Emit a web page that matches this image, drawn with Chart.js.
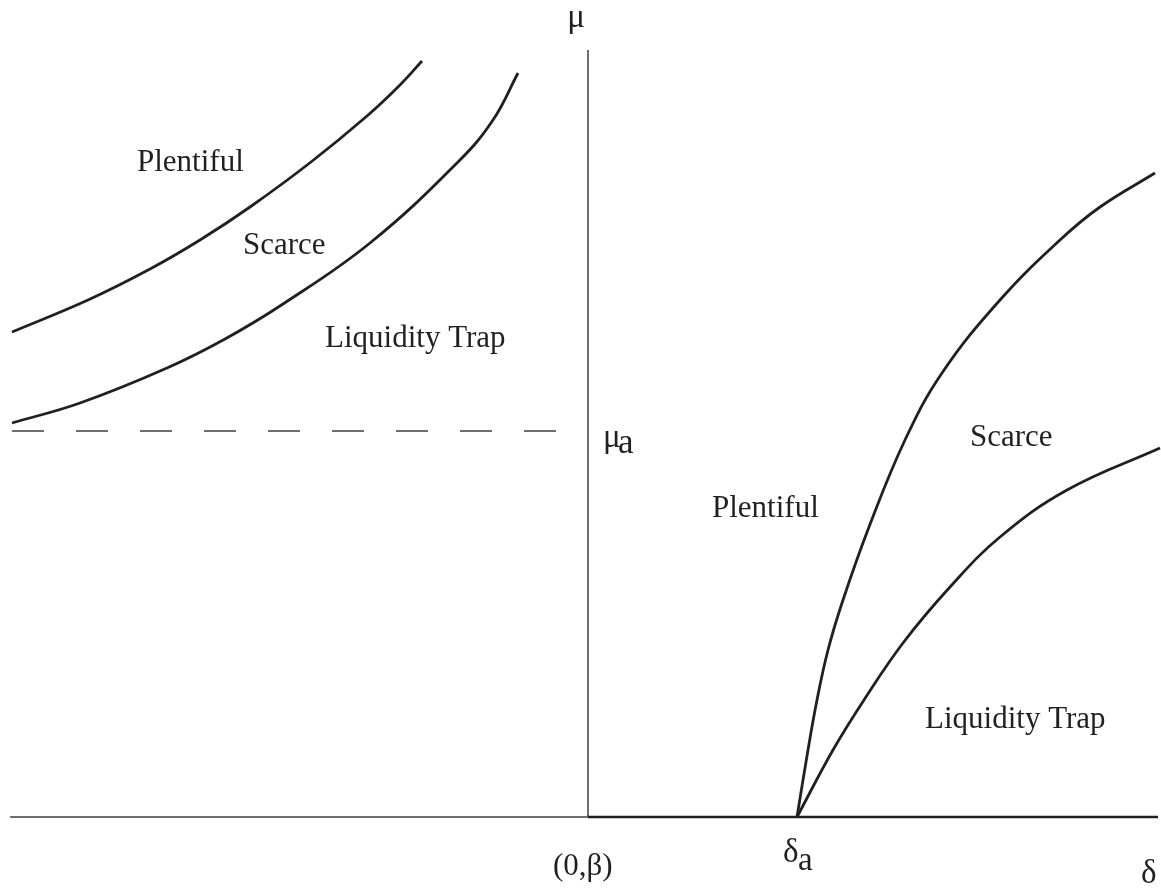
<!DOCTYPE html>
<html>
<head>
<meta charset="utf-8">
<title>Regimes in the (delta, mu) plane</title>
<script src="https://cdn.jsdelivr.net/npm/chart.js@4.4.1/dist/chart.umd.min.js"></script>
<style>
  html, body { margin: 0; padding: 0; background: #fff; }
  #wrap { position: relative; width: 1161px; height: 888px; }
</style>
</head>
<body>
<div id="wrap"><canvas id="c"></canvas></div>
<script>
// Phase diagram: money regimes (plentiful / scarce / liquidity trap)
// x = delta (origin at (0,beta)), y = mu

const X_RANGE = [-5.88, 5.73];
const Y_RANGE = [-0.71, 8.17];

const MU_A = 3.86;      // dashed reference level
const DELTA_A = 2.09;   // where the right-hand curves meet the axis
const MU_TOP = 7.67;    // top of the vertical axis

// left panel: upper boundary (plentiful | scarce)
const leftUpperX = [-5.76, -5.00, -4.38, -3.88, -3.38, -2.77, -2.21, -1.88, -1.66];
const leftUpperY = [4.85, 5.17, 5.48, 5.77, 6.10, 6.55, 7.01, 7.32, 7.56];

// left panel: lower boundary (scarce | liquidity trap)
const leftLowerX = [-5.76, -5.08, -4.21, -3.63, -3.05, -2.18, -1.30, -0.95, -0.70];
const leftLowerY = [3.94, 4.14, 4.49, 4.78, 5.13, 5.74, 6.55, 6.97, 7.44];

// right panel: steep boundary (plentiful | scarce)
const rightUpperX = [2.09, 2.20, 2.29, 2.40, 2.55, 2.81, 3.17, 3.54, 4.12, 4.72, 5.12, 5.67];
const rightUpperY = [0, 0.67, 1.17, 1.67, 2.17, 2.90, 3.77, 4.44, 5.17, 5.77, 6.10, 6.44];

// right panel: flat boundary (scarce | liquidity trap)
const rightLowerX = [2.09, 2.45, 2.76, 3.15, 3.62, 4.12, 4.79, 5.72];
const rightLowerY = [0, 0.67, 1.17, 1.74, 2.30, 2.80, 3.27, 3.69];

// text placed in data coordinates
const regionLabels = [
  { text: 'Plentiful',      x: -4.51, y: 6.46 },
  { text: 'Scarce',         x: -3.45, y: 5.63 },
  { text: 'Liquidity Trap', x: -2.63, y: 4.70 },
  { text: 'Plentiful',      x: 1.24,  y: 3.00 },
  { text: 'Scarce',         x: 3.82,  y: 3.71 },
  { text: 'Liquidity Trap', x: 3.37,  y: 0.89 }
];

const INK = '#231f20';
const GREY = '#6d6e71';

function pts(xs, ys) {
  return xs.map(function (x, i) { return { x: x, y: ys[i] }; });
}

function curve(xs, ys) {
  return {
    data: pts(xs, ys),
    showLine: true,
    borderColor: INK,
    borderWidth: 2.8,
    pointRadius: 0,
    tension: 0.4,
    fill: false
  };
}

function straight(data, color, width, dash) {
  return {
    data: data,
    showLine: true,
    borderColor: color,
    borderWidth: width,
    borderDash: dash || [],
    pointRadius: 0,
    tension: 0,
    fill: false
  };
}

const serif = '"Liberation Serif", "DejaVu Serif", serif';

const labelPlugin = {
  id: 'labels',
  afterDraw: function (chart) {
    const ctx = chart.ctx;
    const sx = chart.scales.x, sy = chart.scales.y;
    const px = function (v) { return sx.getPixelForValue(v); };
    const py = function (v) { return sy.getPixelForValue(v); };
    ctx.save();
    ctx.fillStyle = INK;
    ctx.textBaseline = 'alphabetic';
    ctx.textAlign = 'left';
    ctx.font = '31px ' + serif;
    regionLabels.forEach(function (l) {
      ctx.fillText(l.text, px(l.x), py(l.y));
    });

    // mu at the top of the vertical axis
    ctx.font = '33px ' + serif;
    ctx.textAlign = 'center';
    ctx.fillText('\u03bc', px(-0.12), py(7.90));

    // mu_a next to the dashed line
    ctx.textAlign = 'left';
    ctx.fillText('\u03bc', px(0.15), py(MU_A - 0.16));
    ctx.font = '35px ' + serif;
    ctx.fillText('a', px(0.30), py(MU_A - 0.22));

    // delta_a under the cusp
    ctx.font = '33px ' + serif;
    ctx.fillText('\u03b4', px(DELTA_A - 0.14), py(-0.45));
    ctx.font = '33px ' + serif;
    ctx.fillText('a', px(DELTA_A + 0.01), py(-0.53));

    // origin and delta axis name
    ctx.font = '31px ' + serif;
    ctx.fillText('(0,\u03b2)', px(-0.35), py(-0.58));
    ctx.font = '33px ' + serif;
    ctx.fillText('\u03b4', px(5.53), py(-0.66));
    ctx.restore();
  }
};

new Chart(document.getElementById('c'), {
  type: 'scatter',
  data: {
    datasets: [
      straight([{ x: -5.78, y: 0 }, { x: 0, y: 0 }], GREY, 2),
      straight([{ x: 0, y: 0 }, { x: 5.70, y: 0 }], INK, 2.6),
      straight([{ x: 0, y: 0 }, { x: 0, y: MU_TOP }], GREY, 2),
      straight([{ x: -5.76, y: MU_A }, { x: -0.32, y: MU_A }], GREY, 2, [32, 32]),
      curve(leftUpperX, leftUpperY),
      curve(leftLowerX, leftLowerY),
      curve(rightUpperX, rightUpperY),
      curve(rightLowerX, rightLowerY)
    ]
  },
  options: {
    responsive: true,
    maintainAspectRatio: false,
    animation: false,
    layout: { padding: 0 },
    scales: {
      x: { type: 'linear', display: false, min: X_RANGE[0], max: X_RANGE[1] },
      y: { type: 'linear', display: false, min: Y_RANGE[0], max: Y_RANGE[1] }
    },
    plugins: {
      legend: { display: false },
      tooltip: { enabled: false }
    }
  },
  plugins: [labelPlugin]
});
</script>
</body>
</html>
